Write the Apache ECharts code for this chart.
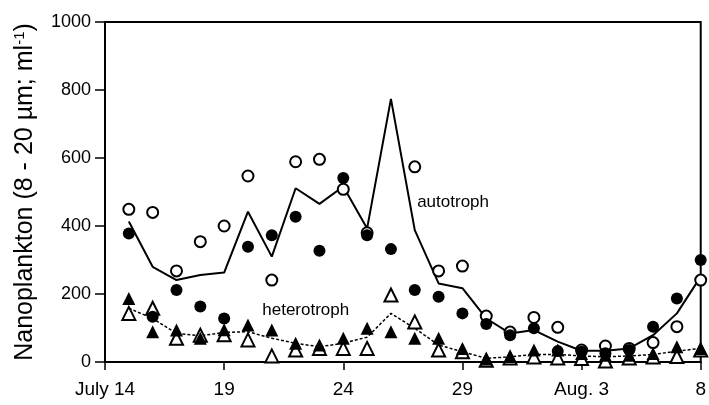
<!DOCTYPE html>
<html>
<head>
<meta charset="utf-8">
<script src="https://cdn.jsdelivr.net/npm/echarts@6/dist/echarts.min.js"></script>
<style>
  html, body { margin: 0; padding: 0; background: #fff; }
  #l2 { width: 709px; height: 405px; }
</style>
</head>
<body>
<div id="l2"></div>
<script>
// day after July 14
var days = [1, 2, 3, 4, 5, 6, 7, 8, 9, 10, 11, 12, 13, 14, 15, 16, 17, 18, 19, 20, 21, 22, 23, 24, 25];
var tickLabels = ["July 14", "19", "24", "29", "Aug. 3", "8"];

// autotroph
var autoOpen = [449, 440, 268, 354, 400, 547, 241, 589, 596, 508, 380, null, 574, 268, 282, 135, 88, 131, 102, 35, 47, 40, 57, 104, 241];
var autoFilled = [378, 133, 212, 163, 128, 339, 373, 427, 327, 541, 373, 332, 212, 192, 143, 112, 79, 99, 32, 30, 26, 35, 104, 187, 300];
var autoLine = [413, 280, 241, 256, 263, 442, 310, 511, 465, 516, 393, 774, 388, 231, 217, 128, 84, 94, 60, 33, 33, 40, 79, 143, 251];

// heterotroph
var heteroFilled = [187, 89, 94, 70, 95, 109, 94, 55, 50, 70, 99, 89, 70, 70, 40, 9, 16, 35, 35, 25, 20, 20, 25, 45, 40];
var heteroOpen = [143, 158, 70, 79, 80, 65, 18, 35, 40, 40, 40, 197, 118, 35, 30, 5, 12, 15, 12, 10, 3, 12, 15, 16, 35];
var heteroLine = [158, 128, 84, 77, 87, 89, 70, 55, 45, 55, 73, 143, 99, 50, 30, 11, 15, 22, 22, 18, 15, 18, 22, 32, 40];

// curve labels: [day, value, text]
var curveLabels = [[13.1, 470, "autotroph"], [6.6, 153, "heterotroph"]];

function pairs(vals) {
  var out = [];
  for (var i = 0; i < days.length; i++) {
    if (vals[i] != null) out.push([days[i], vals[i]]);
  }
  return out;
}

var myChart = echarts.init(document.getElementById("l2"));
var font = "'Liberation Sans', Arial, sans-serif";

var option = {
  backgroundColor: "#fff",
  animation: false,
  textStyle: { fontFamily: font, color: "#000" },
  grid: {
    left: 105, right: 6, top: 22, bottom: 43,
    show: true, borderColor: "#000", borderWidth: 2
  },
  xAxis: {
    type: "value", min: 0, max: 25, interval: 5,
    axisLine: { lineStyle: { color: "#000", width: 2 } },
    axisTick: { length: 8, lineStyle: { color: "#000", width: 1.5 } },
    splitLine: { show: false },
    axisLabel: {
      fontSize: 19, color: "#000", margin: 18, fontFamily: font,
      formatter: function (v) { return tickLabels[Math.round(v / 5)]; }
    }
  },
  yAxis: {
    type: "value", min: 0, max: 1000, interval: 200,
    axisLine: { show: true, lineStyle: { color: "#000", width: 2 } },
    axisTick: { show: true, length: 10, lineStyle: { color: "#000", width: 1.5 } },
    splitLine: { show: false },
    axisLabel: {
      fontSize: 18, color: "#000", margin: 14, fontFamily: font,
      formatter: function (v) { return String(v); }
    },
    name: "Nanoplankton (8 - 20 \u00b5m; ml{sup|-1})",
    nameLocation: "middle",
    nameGap: 66,
    nameTextStyle: {
      fontSize: 25, color: "#000", fontFamily: font,
      rich: { sup: { fontSize: 15, color: "#000", fontFamily: font, padding: [0, 0, 12, 0] } }
    }
  },
  series: [
    {
      name: "autotroph line", type: "line", data: pairs(autoLine),
      symbol: "none", lineStyle: { color: "#000", width: 2 }, z: 2
    },
    {
      name: "heterotroph line", type: "line", data: pairs(heteroLine),
      symbol: "none", lineStyle: { color: "#000", width: 1.5, type: [3, 2] }, z: 2
    },
    {
      name: "heterotroph open", type: "scatter", data: pairs(heteroOpen),
      symbol: "triangle", symbolSize: 13,
      itemStyle: { color: "#fff", borderColor: "#000", borderWidth: 2, opacity: 1 }, z: 3
    },
    {
      name: "heterotroph filled", type: "scatter", data: pairs(heteroFilled),
      symbol: "triangle", symbolSize: 13,
      itemStyle: { color: "#000", opacity: 1 }, z: 4
    },
    {
      name: "autotroph open", type: "scatter", data: pairs(autoOpen),
      symbol: "circle", symbolSize: 11,
      itemStyle: { color: "#fff", borderColor: "#000", borderWidth: 2, opacity: 1 }, z: 5
    },
    {
      name: "autotroph filled", type: "scatter", data: pairs(autoFilled),
      symbol: "circle", symbolSize: 12,
      itemStyle: { color: "#000", opacity: 1 }, z: 6
    },
    {
      name: "labels", type: "scatter", symbolSize: 0, silent: true,
      data: curveLabels.map(function (d) { return { value: [d[0], d[1]], name: d[2] }; }),
      itemStyle: { opacity: 1 },
      label: {
        show: true, position: "right", distance: 0,
        formatter: function (p) { return p.name; },
        fontSize: 17, color: "#000", fontFamily: font
      },
      z: 7
    }
  ]
};

myChart.setOption(option);
</script>
</body>
</html>
